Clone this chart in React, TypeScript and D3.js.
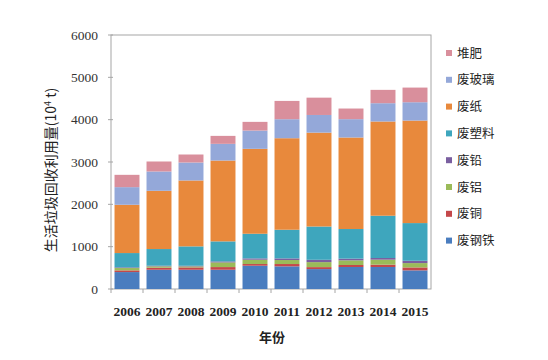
import React from 'react';
import * as d3 from 'd3';

// years along the x axis
const years = ['2006', '2007', '2008', '2009', '2010', '2011', '2012', '2013', '2014', '2015'];

// series, bottom to top (10^4 t)
const steel = [400, 455, 455, 455, 550, 535, 470, 520, 520, 440];
const copper = [40, 48, 55, 63, 40, 55, 47, 47, 55, 70];
const aluminium = [55, 32, 24, 110, 102, 94, 118, 110, 118, 102];
const lead = [16, 15, 15, 24, 31, 39, 55, 40, 39, 55];
const plastic = [338, 394, 458, 473, 582, 677, 786, 700, 999, 890];
const paper = [1141, 1376, 1557, 1910, 2006, 2162, 2218, 2162, 2226, 2422];
const glass = [416, 456, 424, 394, 432, 449, 417, 433, 432, 433];
const compost = [291, 236, 189, 188, 205, 432, 409, 251, 315, 346];

const seriesNames = ['废钢铁', '废铜', '废铝', '废铅', '废塑料', '废纸', '废玻璃', '堆肥'];
const seriesColors = ['#4a7dbf', '#c4484a', '#9bbb59', '#7a5fa0', '#3ea6bd', '#e8893c', '#94a8d9', '#d98f9c'];
const yTicks = [0, 1000, 2000, 3000, 4000, 5000, 6000];

const W = 548, H = 360;
const left = 111, right = 431, top = 35, bottom = 289;

export default function App() {
  const all = [steel, copper, aluminium, lead, plastic, paper, glass, compost];
  const rows = years.map((y, i) => {
    const r: any = { year: y };
    seriesNames.forEach((n, k) => { r[n] = all[k][i]; });
    return r;
  });
  const stacked = d3.stack().keys(seriesNames)(rows);

  const x = d3.scaleBand().domain(years).range([left, right]).paddingInner(0.22).paddingOuter(0.11);
  const y = d3.scaleLinear().domain([0, 6000]).range([bottom, top]);
  const step = x.step();

  return (
    <div style={{ margin: -8 }}>
      <svg width={W} height={H} style={{ display: 'block', background: '#fff' }}>
        <rect x={left} y={top} width={right - left} height={bottom - top} fill="none" stroke="#a6a6a6" strokeWidth={1} />
        {yTicks.map(t => (
          <g key={t}>
            <line x1={left - 3} x2={left + 2} y1={y(t)} y2={y(t)} stroke="#a6a6a6" />
            <text x={98} y={y(t) + 4.5} textAnchor="end" fontFamily="Liberation Serif" fontSize={13.5} fill="#333">{t}</text>
          </g>
        ))}
        {years.map((yr, i) => (
          <g key={yr}>
            <line x1={left + step * i} x2={left + step * i} y1={bottom} y2={bottom + 4} stroke="#a6a6a6" />
            <text x={x(yr)! + x.bandwidth() / 2} y={316} textAnchor="middle" fontFamily="Liberation Serif" fontWeight="bold" fontSize={13.5} fill="#222">{yr}</text>
          </g>
        ))}
        {stacked.map((s, k) => (
          <g key={s.key} fill={seriesColors[k]}>
            {s.map((d, i) => (
              <rect key={i} x={x(years[i])} width={x.bandwidth()} y={y(d[1])} height={y(d[0]) - y(d[1])} />
            ))}
          </g>
        ))}
        {seriesNames.slice().reverse().map((n, i) => (
          <g key={n} transform={`translate(446, ${53 + i * 26.8})`}>
            <rect x={0} y={-3} width={6} height={6} fill={seriesColors[seriesNames.length - 1 - i]} />
            <text x={11} y={4.5} fontFamily="Noto Sans CJK SC" fontSize={12.5} fill="#222">{n}</text>
          </g>
        ))}
        <text transform={`translate(56, 170) rotate(-90)`} textAnchor="middle" fontFamily="Noto Sans CJK SC" fontSize={14} fill="#222">
          生活垃圾回收利用量(10<tspan dy={-5} fontSize={9}>4</tspan><tspan dy={5}>{'\u00a0t)'}</tspan>
        </text>
        <text x={272} y={342} textAnchor="middle" fontFamily="Noto Sans CJK SC" fontWeight="bold" fontSize={13} fill="#222">年份</text>
      </svg>
    </div>
  );
}
